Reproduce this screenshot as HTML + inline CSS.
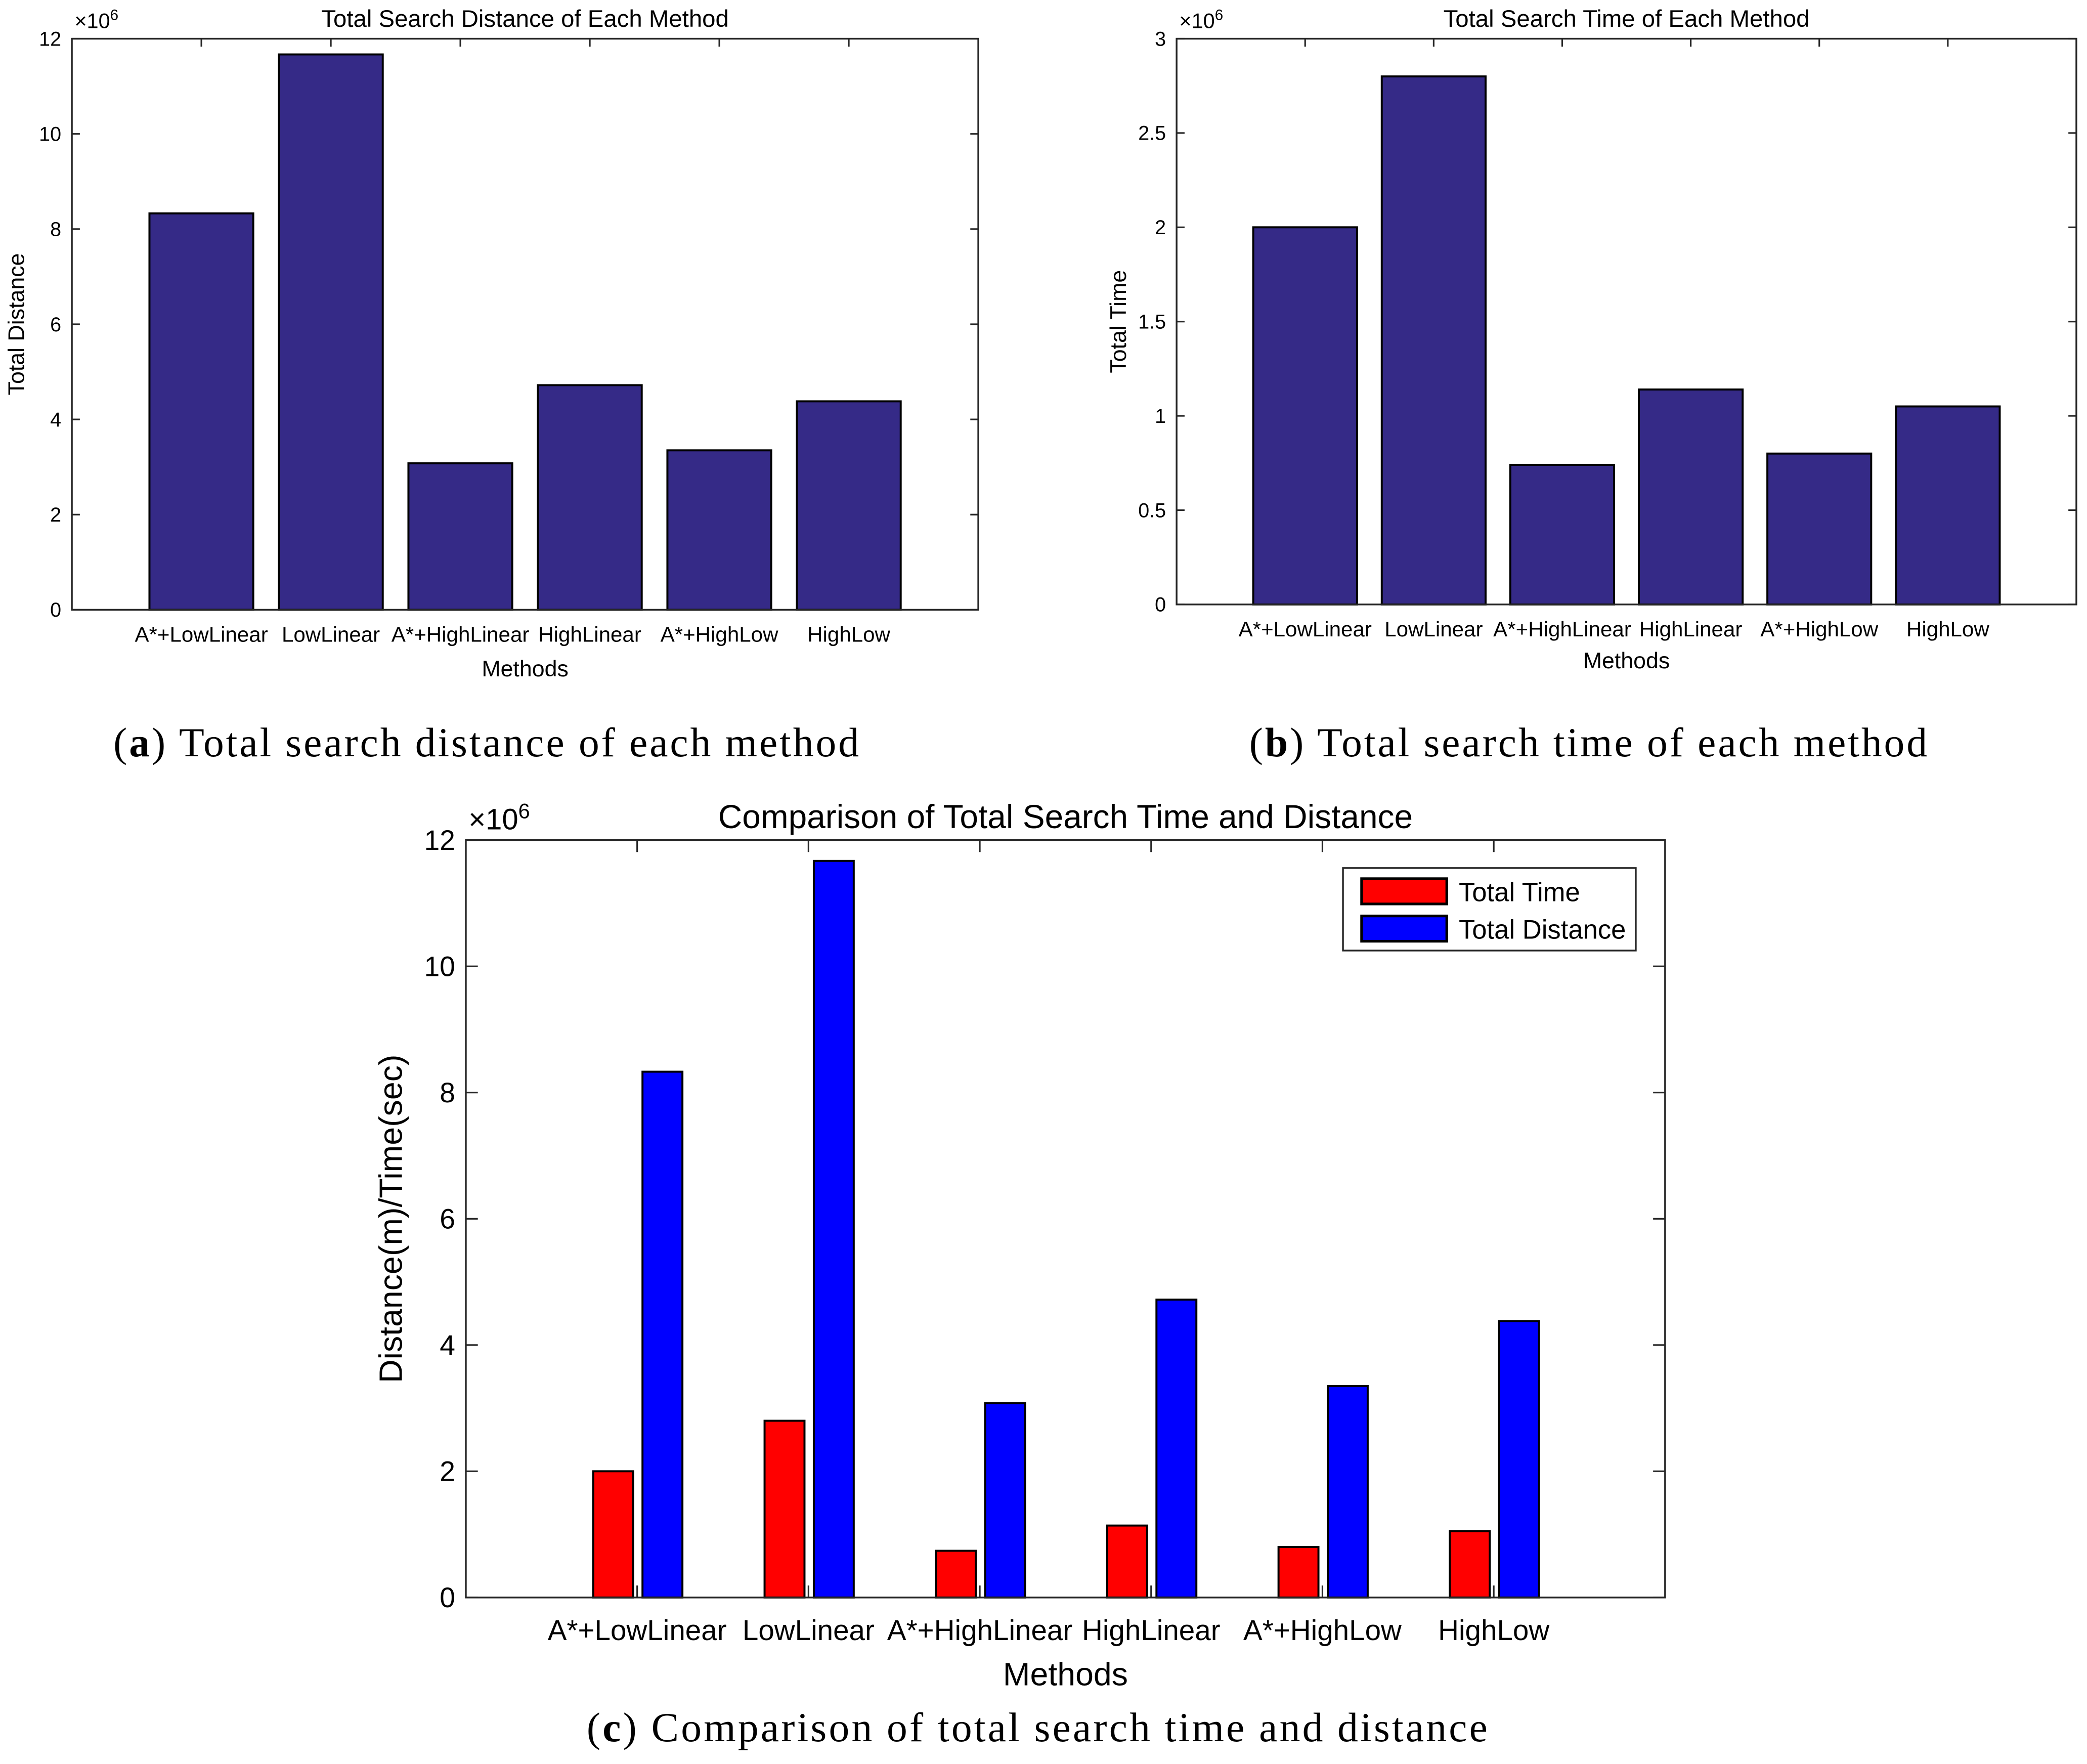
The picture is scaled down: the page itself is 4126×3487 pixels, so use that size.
<!DOCTYPE html>
<html><head><meta charset="utf-8"><style>
html,body{margin:0;padding:0;background:#fff}
svg{display:block}
text{font-family:"Liberation Sans",sans-serif;fill:#000}
.cap{font-family:"Liberation Serif",serif}
</style></head><body>
<svg id="fig" width="4126" height="3487" viewBox="0 0 1568 1325" xmlns="http://www.w3.org/2000/svg">
<g id="ga"></g>
<g id="gb"></g>
<g id="gc"></g>
<text class="cap" x="366" y="568" font-size="31" letter-spacing="1.5" text-anchor="middle">(<tspan font-weight="bold">a</tspan>) Total search distance of each method</text>
<text class="cap" x="1194" y="568" font-size="31" letter-spacing="1.5" text-anchor="middle">(<tspan font-weight="bold">b</tspan>) Total search time of each method</text>
<text class="cap" x="780" y="1308" font-size="31" letter-spacing="1.6" text-anchor="middle">(<tspan font-weight="bold">c</tspan>) Comparison of total search time and distance</text>
</svg>
<script>
const categories = ["A*+LowLinear","LowLinear","A*+HighLinear","HighLinear","A*+HighLow","HighLow"];
const distanceValues = [8.33, 11.67, 3.08, 4.72, 3.35, 4.38];
const timeValues = [2.0, 2.8, 0.74, 1.14, 0.80, 1.05];
const ticksA = [0,2,4,6,8,10,12];
const ticksB = [0,0.5,1,1.5,2,2.5,3];
const ticksBLabels = ["0","0.5","1","1.5","2","2.5","3"];
const ticksC = [0,2,4,6,8,10,12];

const NS="http://www.w3.org/2000/svg";
function mk(parent,tag,attrs,txt){const e=document.createElementNS(NS,tag);for(const k in attrs)e.setAttribute(k,attrs[k]);if(txt!==undefined)e.textContent=txt;parent.appendChild(e);return e;}

function chart(g,o){
  const {x0,x1,y0,y1,ymax,ticks,labels,fs,tick}=o;
  const ys=v=>y1-(v/ymax)*(y1-y0);
  const n=categories.length, step=(x1-x0)/(n+1);
  const xs=i=>x0+step*(i+1);
  ticks.forEach((t,i)=>{
    const y=ys(t);
    let l=mk(g,'line',{x1:x0,y1:y,x2:x0+tick,y2:y,stroke:'#262626','stroke-width':1.2});
    
    
    l=mk(g,'line',{x1:x1,y1:y,x2:x1-tick,y2:y,stroke:'#262626','stroke-width':1.2});
    
    
    const tx=mk(g,'text',{x:x0-8,y:y+fs*0.35,'font-size':fs,'text-anchor':'end'},labels[i]);
    
    
  });
  categories.forEach((c,i)=>{
    const x=xs(i);
    let l=mk(g,'line',{x1:x,y1:y0,x2:x,y2:y0+tick,stroke:'#262626','stroke-width':1.2});
    
    
    l=mk(g,'line',{x1:x,y1:y1,x2:x,y2:y1-tick,stroke:'#262626','stroke-width':1.2});
    
    
    const t=mk(g,'text',{x:x,y:y1+o.xlabY,'font-size':o.xfs,'text-anchor':'middle'},c);
    
    
  });
  o.series.forEach(s=>{
    s.values.forEach((v,i)=>{
      const x=xs(i)+s.off;
      const r=mk(g,'rect',{x:x-s.w/2,y:ys(v),width:s.w,height:ys(0)-ys(v),fill:s.color,stroke:'#000','stroke-width':1.5});
      
      
    });
  });
  const b=mk(g,'rect',{x:x0,y:y0,width:x1-x0,height:y1-y0,fill:'none',stroke:'#262626','stroke-width':1.3});
  
  
  const ex=mk(g,'text',{x:x0+2,y:y0-8,'font-size':fs*1.05},'×10');
  
  
  mk(ex,'tspan',{dy:-fs*0.4,'font-size':fs*0.75},'6');
  const ti=mk(g,'text',{x:(x0+x1)/2,y:y0-9,'font-size':o.tfs,'text-anchor':'middle'},o.title);
  
  
  const xl=mk(g,'text',{x:(x0+x1)/2,y:y1+o.xtY,'font-size':o.afs,'text-anchor':'middle'},'Methods');
  
  
  const yl=mk(g,'text',{x:0,y:0,'font-size':o.afs,'text-anchor':'middle',transform:`translate(${o.ytX},${(y0+y1)/2}) rotate(-90)`},o.ytitle);
  
  
}
chart(document.getElementById('ga'),{x0:54,x1:735,y0:29,y1:458,ymax:12,ticks:ticksA,labels:ticksA.map(String),fs:15,xfs:16,tick:6,xlabY:24,xtY:50,tfs:18,afs:17,ytX:18,title:'Total Search Distance of Each Method',ytitle:'Total Distance',
  series:[{name:'distance',values:distanceValues,off:0,w:78,color:'#352a87'}]});
chart(document.getElementById('gb'),{x0:884,x1:1560,y0:29,y1:454,ymax:3,ticks:ticksB,labels:ticksBLabels,fs:15,xfs:16,tick:6,xlabY:24,xtY:48,tfs:18,afs:17,ytX:846,title:'Total Search Time of Each Method',ytitle:'Total Time',
  series:[{name:'time',values:timeValues,off:0,w:78,color:'#352a87'}]});
chart(document.getElementById('gc'),{x0:350,x1:1251,y0:631,y1:1200,ymax:12,ticks:ticksC,labels:ticksC.map(String),fs:21,xfs:21.5,tick:9,xlabY:32,xtY:66,tfs:25,afs:24.5,ytX:302,title:'Comparison of Total Search Time and Distance',ytitle:'Distance(m)/Time(sec)',
  series:[{name:'time',values:timeValues,off:-18,w:30,color:'#ff0000'},{name:'distance',values:distanceValues,off:19,w:30,color:'#0000ff'}]});
const gc=document.getElementById('gc');
const lg=mk(gc,'g',{});


mk(lg,'rect',{x:1009,y:652,width:220,height:62,fill:'#fff',stroke:'#262626','stroke-width':1.3});
[['Total Time','#ff0000',660],['Total Distance','#0000ff',688]].forEach(([t,c,y])=>{
  const e=mk(lg,'g',{});
  
  
  mk(e,'rect',{x:1023,y:y,width:64,height:19,fill:c,stroke:'#000','stroke-width':2});
  mk(e,'text',{x:1096,y:y+17,'font-size':20},t);
});
</script>
</body></html>
